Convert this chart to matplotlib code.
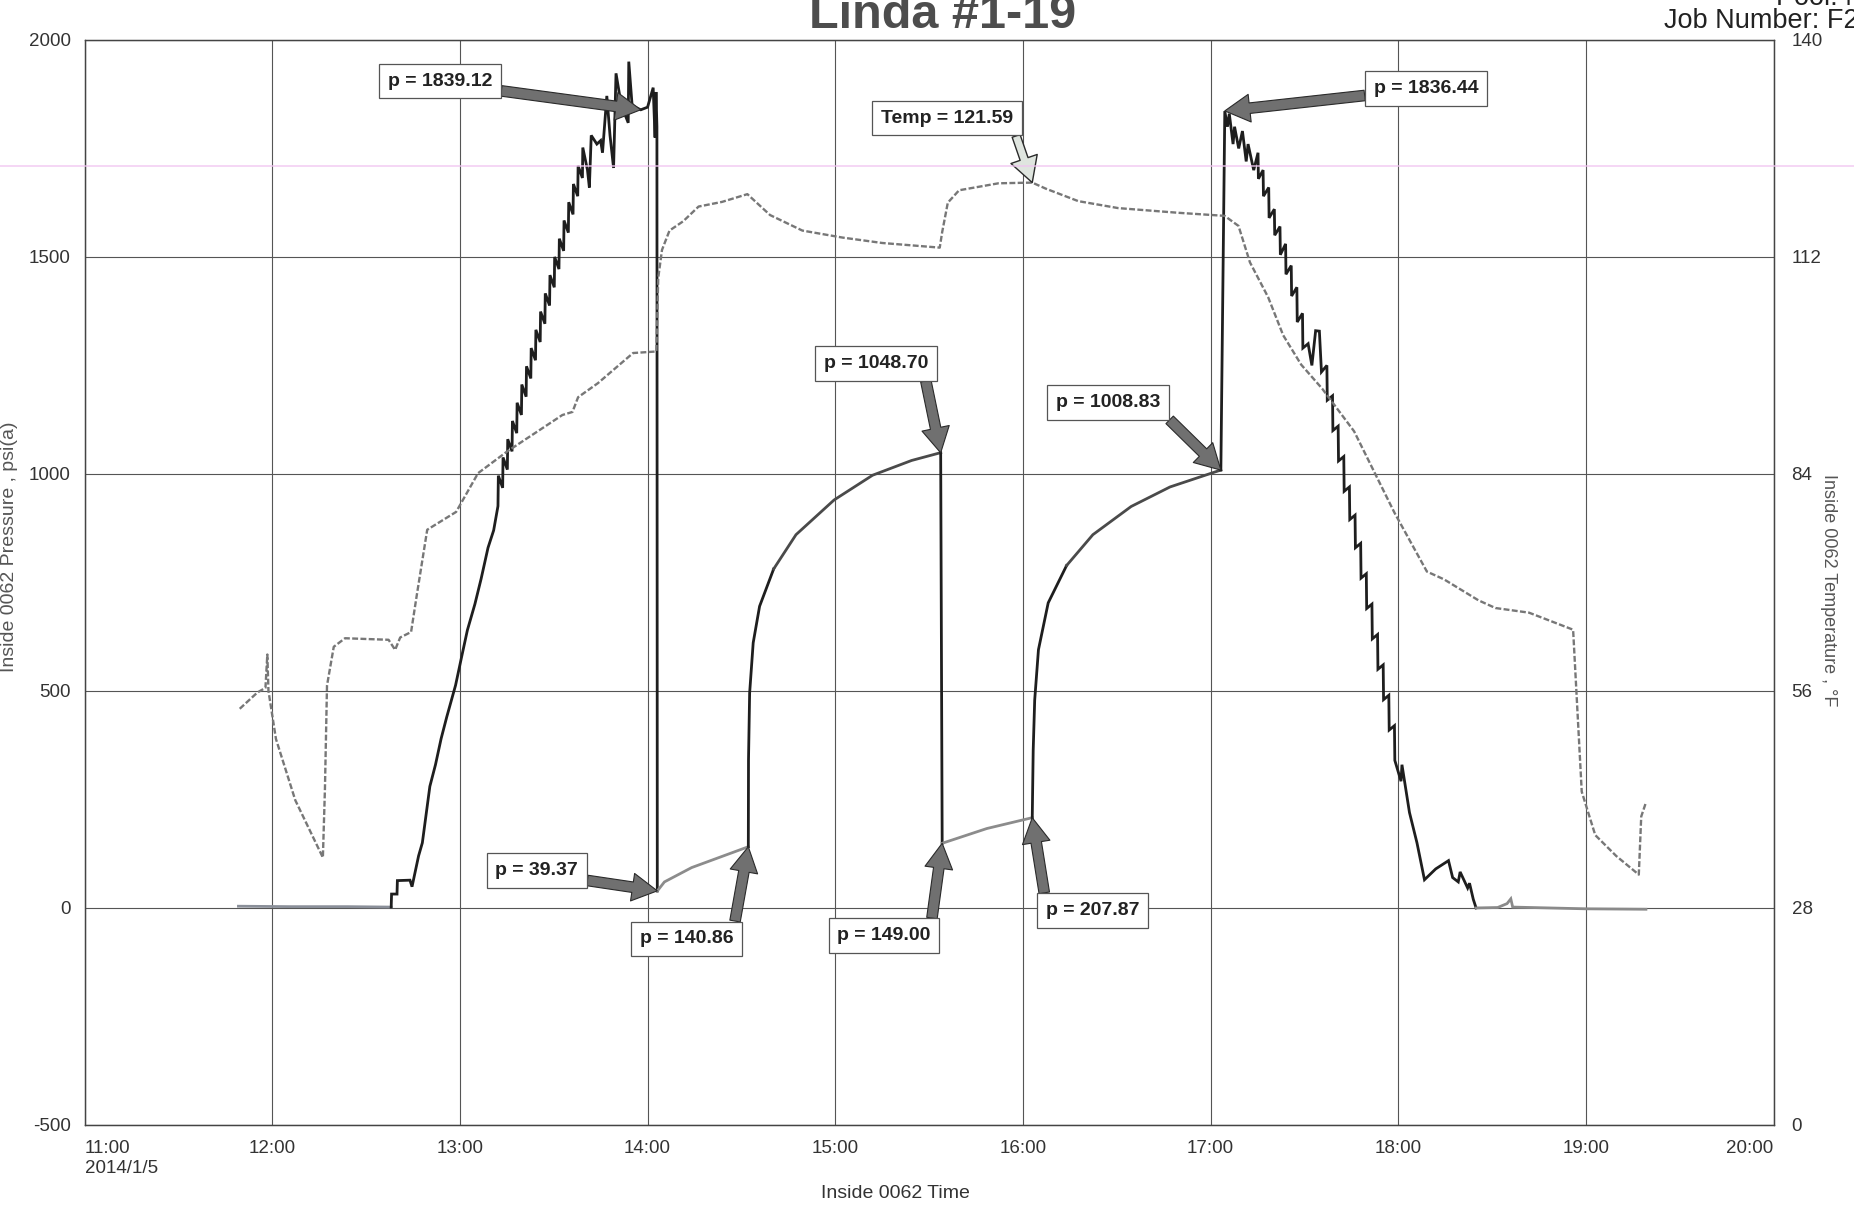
import matplotlib.pyplot as plt
from matplotlib.lines import Line2D

plt.rcParams['font.family'] = ['Liberation Sans', 'DejaVu Sans']
plt.rcParams['axes.unicode_minus'] = False

# time in decimal hours (2014/1/5), pressure in psi(a)
flat_t = [11.82, 12.10, 12.40, 12.634]
flat_p = [4, 3, 3, 2]

ramp_t = [12.634, 12.636, 12.665, 12.667, 12.734, 12.745, 12.78, 12.80, 12.84, 12.87,
          12.90, 12.93, 12.977, 13.01, 13.04, 13.08, 13.113, 13.15, 13.18, 13.203,
          13.205, 13.228, 13.230, 13.253, 13.255, 13.278, 13.280, 13.303, 13.305, 13.328,
          13.330, 13.353, 13.355, 13.378, 13.380, 13.403, 13.405, 13.428, 13.430, 13.453,
          13.455, 13.478, 13.480, 13.503, 13.505, 13.528, 13.530, 13.553, 13.555, 13.578,
          13.580, 13.603, 13.605, 13.628, 13.630, 13.653, 13.655, 13.68, 13.69, 13.70,
          13.73, 13.75, 13.76, 13.783, 13.80, 13.819, 13.832, 13.86, 13.897, 13.90,
          13.918, 13.964, 14.00, 14.03, 14.04, 14.045, 14.05, 14.052]
ramp_p = [2, 32, 32, 63, 64, 49, 120, 150, 280, 330,
          390, 440, 513, 580, 640, 700, 758, 830, 870, 926,
          996, 968, 1038, 1010, 1080, 1052, 1122, 1094, 1164, 1136,
          1206, 1178, 1248, 1220, 1290, 1262, 1332, 1304, 1374, 1346,
          1416, 1388, 1458, 1430, 1500, 1472, 1542, 1514, 1584, 1556,
          1626, 1598, 1668, 1640, 1710, 1682, 1752, 1700, 1660, 1780,
          1760, 1768, 1740, 1871, 1780, 1705, 1923, 1850, 1809, 1950,
          1848, 1839, 1845, 1890, 1775, 1880, 1800, 39]

rise1_t = [14.052, 14.09, 14.235, 14.537]
rise1_p = [39, 60, 93, 141]

recov1_t = [14.537, 14.538, 14.544, 14.563, 14.597, 14.672]
recov1_p = [141, 341, 495, 611, 695, 781]

plat1_t = [14.672, 14.791, 14.994, 15.199, 15.407, 15.562]
plat1_p = [781, 860, 940, 997, 1031, 1049]

drop1_t = [15.562, 15.57]
drop1_p = [1049, 149]

rise2_t = [15.57, 15.808, 16.05]
rise2_p = [149, 183, 208]

recov2_t = [16.05, 16.055, 16.063, 16.083, 16.135, 16.233]
recov2_p = [208, 363, 479, 595, 703, 789]

plat2_t = [16.233, 16.373, 16.577, 16.784, 17.055]
plat2_p = [789, 860, 925, 970, 1009]

desc_t = [17.055, 17.076, 17.09, 17.10, 17.12, 17.128, 17.15, 17.17, 17.19, 17.20,
          17.23, 17.253, 17.255, 17.28, 17.282, 17.31, 17.312, 17.34, 17.342, 17.37,
          17.372, 17.40, 17.402, 17.43, 17.432, 17.46, 17.462, 17.49, 17.492, 17.52,
          17.54, 17.56, 17.58, 17.591, 17.62, 17.622, 17.65, 17.652, 17.68, 17.682,
          17.71, 17.712, 17.74, 17.742, 17.77, 17.772, 17.80, 17.802, 17.83, 17.832,
          17.86, 17.862, 17.89, 17.892, 17.92, 17.922, 17.95, 17.952, 17.98, 17.982,
          18.015, 18.02, 18.06, 18.10, 18.14, 18.20, 18.268, 18.29, 18.32, 18.33,
          18.37, 18.38, 18.40, 18.415]
desc_p = [1009, 1836, 1800, 1830, 1760, 1800, 1750, 1790, 1720, 1760,
          1700, 1740, 1680, 1700, 1640, 1660, 1590, 1610, 1550, 1570,
          1505, 1530, 1460, 1480, 1410, 1430, 1350, 1370, 1290, 1300,
          1250, 1330, 1329, 1235, 1250, 1170, 1180, 1100, 1110, 1030,
          1040, 960, 970, 895, 905, 830, 840, 760, 770, 690,
          700, 620, 630, 550, 560, 480, 490, 410, 420, 340,
          292, 330, 220, 150, 65, 90, 109, 70, 60, 83,
          46, 57, 20, 0]

flatend_t = [18.415, 18.53, 18.58, 18.60, 18.61, 19.0, 19.32]
flatend_p = [0, 1, 10, 21, 2, -2, -3]

# temperature, F
temp_t = [11.827, 11.921, 11.964, 11.974, 11.98, 12.02, 12.123, 12.27, 12.281, 12.292,
          12.328, 12.388, 12.62, 12.655, 12.682, 12.74, 12.77, 12.826, 12.98, 13.097,
          13.252, 13.546, 13.60, 13.63, 13.735, 13.923, 14.047, 14.057, 14.077, 14.117,
          14.19, 14.272, 14.397, 14.532, 14.653, 14.825, 15.038, 15.25, 15.557, 15.57,
          15.60, 15.66, 15.87, 16.05, 16.123, 16.295, 16.508, 16.825, 17.075, 17.149,
          17.21, 17.307, 17.387, 17.483, 17.595, 17.765, 17.98, 18.153, 18.244, 18.427,
          18.518, 18.697, 18.932, 18.978, 19.05, 19.162, 19.282, 19.295, 19.32]
temp_v = [53.7, 55.8, 56.4, 60.7, 56.0, 49.8, 41.9, 34.5, 43.4, 56.7,
          61.7, 62.8, 62.6, 61.3, 62.9, 63.6, 68.3, 76.8, 79.1, 84.1,
          86.9, 91.6, 92.0, 93.9, 95.7, 99.6, 99.8, 109.3, 112.9, 115.4,
          116.6, 118.5, 119.1, 120.1, 117.4, 115.4, 114.5, 113.8, 113.2, 115.2,
          119.0, 120.6, 121.5, 121.59, 120.8, 119.2, 118.3, 117.7, 117.3, 116.0,
          111.3, 106.8, 101.9, 98.1, 95.0, 89.5, 79.0, 71.4, 70.4, 67.7,
          66.7, 66.1, 63.9, 43.0, 37.4, 34.7, 32.3, 39.8, 41.6]

# callouts: label, arrow target (time, value), box centre (time, value), arrow start on box
ann_text = ['p = 1839.12', 'p = 1836.44', 'p = 1048.70', 'p = 1008.83',
            'p = 39.37', 'p = 140.86', 'p = 149.00', 'p = 207.87']
ann_t = [13.964, 17.076, 15.562, 17.055, 14.052, 14.537, 15.57, 16.05]
ann_p = [1839.12, 1836.44, 1048.70, 1008.83, 39.37, 140.86, 149.00, 207.87]
box_t = [12.894, 18.149, 15.217, 16.455, 13.41, 14.208, 15.26, 16.371]
box_p = [1905, 1888, 1255, 1165, 86, -71, -64, -6]
ann_rel = [(1, 0), (0, 0.15), (0.96, 0), (1, 0), (1, 0), (1, 1), (1, 1), (0, 1)]

hours = list(range(11, 21))
hour_labels = ['11:00\n2014/1/5', '12:00', '13:00', '14:00', '15:00',
               '16:00', '17:00', '18:00', '19:00', '20:00']
p_ticks = [-500, 0, 500, 1000, 1500, 2000]
t_ticks = [0, 28, 56, 84, 112, 140]

fig = plt.figure(figsize=(18.54, 12.06), dpi=100)
ax = fig.add_axes([0.0456, 0.0672, 0.911, 0.8997])
ax2 = ax.twinx()

segs = [(flat_t, flat_p, '#8a8f99'), (ramp_t, ramp_p, '#1e1e1e'),
        (rise1_t, rise1_p, '#8c8c8c'), (recov1_t, recov1_p, '#1e1e1e'),
        (plat1_t, plat1_p, '#4a4a4a'), (drop1_t, drop1_p, '#1e1e1e'),
        (rise2_t, rise2_p, '#8c8c8c'), (recov2_t, recov2_p, '#1e1e1e'),
        (plat2_t, plat2_p, '#4a4a4a'), (desc_t, desc_p, '#1e1e1e'),
        (flatend_t, flatend_p, '#8a8a8a')]
for st, sp, col in segs:
    ax.plot(st, sp, color=col, lw=2.0, solid_joinstyle='miter', zorder=3)

ax2.plot(temp_t, temp_v, color='#777777', lw=1.7, ls=(0, (2.5, 1)), zorder=2)

ax.set_xlim(11, 20)
ax.set_ylim(-500, 2000)
ax2.set_ylim(0, 140)
ax.set_xticks(hours)
ax.set_xticklabels(hour_labels)
ax.set_yticks(p_ticks)
ax2.set_yticks(t_ticks)
xl = ax.get_xticklabels()
xl[0].set_ha('left')
xl[-1].set_ha('right')

ax.grid(True, color='#555555', lw=0.8)
ax.set_axisbelow(True)
ax.tick_params(axis='x', length=0, pad=11, labelsize=13.5, colors='#333333')
ax.tick_params(axis='y', length=0, pad=10, labelsize=13.5, colors='#333333')
ax2.tick_params(axis='y', length=0, pad=13, labelsize=13.5, colors='#333333')
for a in (ax, ax2):
    for s in a.spines.values():
        s.set_color('#444444')
        s.set_linewidth(0.9)

for i in range(len(ann_text)):
    ax.annotate(ann_text[i], xy=(ann_t[i], ann_p[i]), xytext=(box_t[i], box_p[i]),
                ha='center', va='center', fontsize=14, fontweight='bold', color='#222222',
                bbox=dict(boxstyle='square,pad=0.45', fc='white', ec='#555555', lw=0.9),
                arrowprops=dict(arrowstyle='simple,head_length=0.9,head_width=1.0,tail_width=0.38',
                                fc='#707070', ec='#2a2a2a', lw=0.8, relpos=ann_rel[i],
                                shrinkA=0, shrinkB=0, mutation_scale=20),
                zorder=6)

ax2.annotate('Temp = 121.59', xy=(16.05, 121.59), xytext=(15.595, 129.9),
             ha='center', va='center', fontsize=14, fontweight='bold', color='#222222',
             bbox=dict(boxstyle='square,pad=0.45', fc='white', ec='#555555', lw=0.9),
             arrowprops=dict(arrowstyle='simple,head_length=0.9,head_width=1.0,tail_width=0.3',
                             fc='#dfe5df', ec='#2a2a2a', lw=1.0, relpos=(1, 0),
                             shrinkA=0, shrinkB=0, mutation_scale=20),
             zorder=6)

fig.text(10 / 1854, 1 - 547 / 1206, 'Inside 0062 Pressure , psi(a)', rotation=90,
         ha='center', va='center', fontsize=14, color='#555555')
fig.text(1828 / 1854, 1 - 590 / 1206, 'Inside 0062 Temperature , \u00b0F', rotation=270,
         ha='center', va='center', fontsize=13, color='#555555')
fig.text(895 / 1854, 1 - 1193 / 1206, 'Inside 0062 Time', ha='center', va='center',
         fontsize=14, color='#333333')

fig.text(943 / 1854, 1 - 28 / 1206, 'Linda #1-19', ha='center', va='baseline',
         fontsize=35, fontweight='bold', color='#4d4d4d')
fig.text(1664 / 1854, 1 - 28 / 1206, 'Job Number: F22', ha='left', va='baseline',
         fontsize=19.5, color='#222222')
fig.text(1776 / 1854, 1 - 5 / 1206, 'Pool: N', ha='left', va='baseline',
         fontsize=19.5, color='#222222')

# faint pink scan line across the whole page, over the plot
fig.add_artist(Line2D([0, 1], [1 - 166 / 1206, 1 - 166 / 1206], transform=fig.transFigure,
                      color='#f0c4f0', lw=1.2, alpha=0.8, zorder=10))

fig.savefig('out.png', dpi=100)
